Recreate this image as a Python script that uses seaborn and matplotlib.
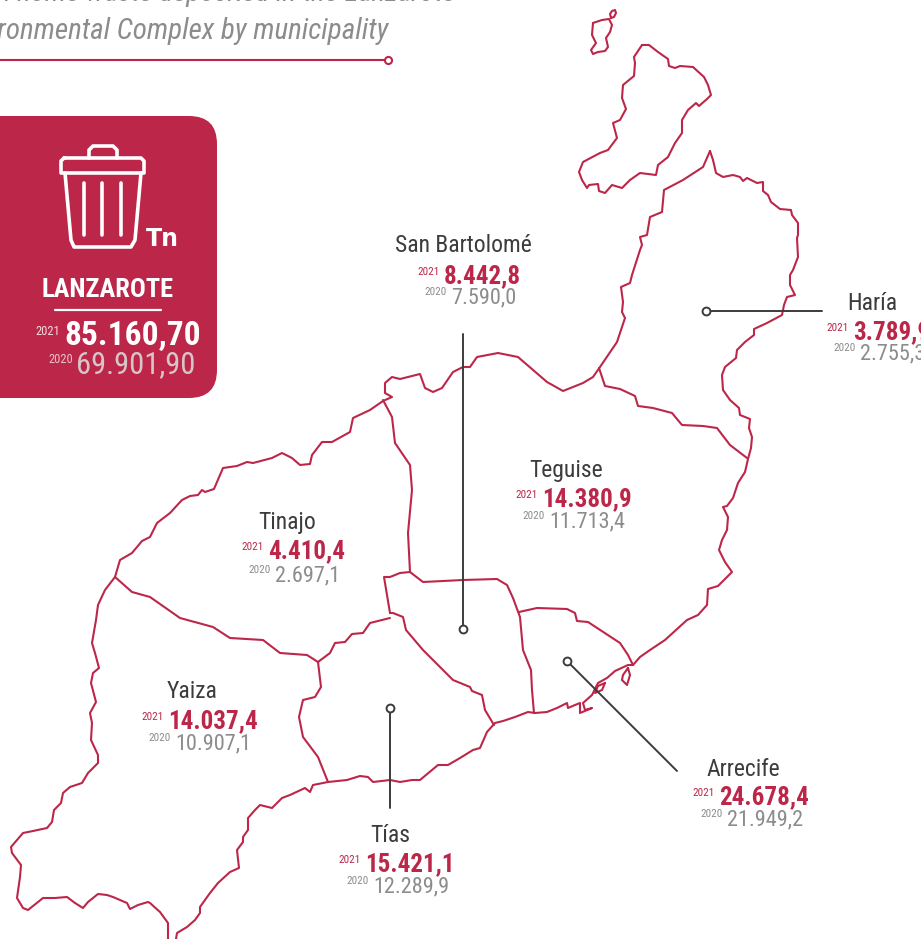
import matplotlib
matplotlib.use("Agg")
import matplotlib.pyplot as plt
from matplotlib import font_manager
from matplotlib.patches import FancyBboxPatch
import seaborn as sns

# Values per municipality
municipalities = ["San Bartolomé", "Haría", "Teguise", "Tinajo", "Yaiza", "Arrecife", "Tías"]
values_2021 = ["8.442,8", "3.789,9", "14.380,9", "4.410,4", "14.037,4", "24.678,4", "15.421,1"]
values_2020 = ["7.590,0", "2.755,3", "11.713,4", "2.697,1", "10.907,1", "21.949,2", "12.289,9"]
total_2021 = "85.160,70"
total_2020 = "69.901,90"

# Map outlines in pixels
graciosa = [(642,45),(649,45),(658,52),(668,59),(669,66),(675,68),(680,66),(693,67),(704,77),(708,85),(711,95),(707,99),(699,106),(696,103),(688,110),(682,120),(682,133),(675,143),(668,157),(658,165),(656,175),(640,173),(630,180),(622,188),(612,185),(605,193),(599,191),(598,184),(589,185),(587,188),(582,180),(579,172),(583,162),(600,153),(608,150),(617,138),(613,123),(620,120),(626,109),(622,98),(623,85),(634,76),(635,63),(634,57),(642,45)]
montana_clara = [(593,23),(602,20),(609,19),(612,25),(610,32),(606,38),(608,47),(605,51),(598,52),(593,54),(591,50),(596,43),(592,35),(593,23)]
islet = [(611,18),(610,14),(612,11),(615,10),(616,13),(614,17),(611,18)]
coast_east = [(710,151),(713,160),(716,173),(723,177),(733,175),(740,177),(743,181),(747,178),(757,183),(763,182),(763,191),(768,195),(771,202),(780,209),(791,210),(792,215),(798,223),(798,235),(797,238),(798,257),(793,270),(790,275),(790,285),(795,295),(787,297),(784,305),(782,315),(767,323),(754,329),(754,335),(745,342),(737,350),(736,358),(725,367),(722,375),(723,390),(730,400),(739,408),(740,415),(750,419),(749,428),(752,437),(751,448),(748,459),(745,472),(738,483),(733,498),(727,506),(723,507),(728,517),(727,530),(722,540),(719,550),(725,562),(732,572),(718,586),(708,589),(707,605),(698,615),(687,620),(665,640),(650,650),(640,657),(633,665)]
coast_south = [(633,665),(628,665),(615,671),(607,678),(598,683),(592,695),(583,703),(585,710),(592,708),(580,713),(580,703),(575,705),(568,708),(567,703),(557,708),(547,712),(535,713),(528,712),(515,717),(503,721),(495,723),(487,732),(480,748),(473,750),(460,758),(448,765),(438,765),(420,780),(412,780),(400,782),(390,780),(373,782),(368,777),(360,776),(347,780),(328,782),(313,785),(310,792),(305,788),(290,795),(282,798),(272,808),(260,805),(255,810),(248,818),(248,830),(243,837),(243,842),(237,850),(239,868),(230,872),(218,883),(210,893),(200,907),(200,913),(195,920),(187,927),(177,933),(175,945),(168,945),(168,923),(160,912),(150,903),(148,902),(138,905),(130,909),(127,903),(113,897),(107,895),(98,894),(88,902),(83,908),(75,903),(67,897),(55,898),(43,898),(28,910),(23,908),(17,898),(20,877),(21,865),(12,853),(11,847),(23,833),(33,831),(47,828),(52,822),(54,810),(61,803),(63,793),(70,787),(82,783),(88,773),(98,763),(98,755),(91,740),(92,723),(90,713),(96,702),(91,683),(93,673),(99,668),(95,653),(92,643),(96,620),(98,605),(105,590),(115,577)]
coast_north = [(115,577),(120,560),(132,553),(142,541),(150,537),(157,523),(170,513),(182,500),(190,496),(198,495),(202,490),(205,492),(214,489),(223,468),(237,466),(247,462),(253,463),(272,458),(282,453),(292,458),(300,465),(310,464),(312,455),(322,442),(332,442),(350,432),(353,418),(370,410),(383,401),(392,397),(385,393),(385,383),(392,377),(400,379),(420,374),(425,388),(433,392),(442,388),(453,372),(463,367),(470,367),(477,357),(498,353),(518,357),(547,382),(563,391),(583,383),(593,377),(600,367),(617,342),(625,318),(622,312),(623,302),(621,287),(630,283),(632,275),(640,250),(642,245),(640,237),(647,235),(650,217),(662,212),(664,190),(683,180),(703,167),(710,151)]
arrecife_inlet = [(628,668),(623,675),(622,680),(627,685),(630,675),(628,668)]
arrecife_islet = [(605,683),(598,686),(595,693),(602,690),(605,683)]

# Municipal borders
border_haria = [(599,368),(605,386),(620,389),(635,396),(638,406),(653,408),(672,413),(682,425),(703,426),(717,428),(730,445),(747,458)]
border_teguise_west = [(383,400),(392,417),(395,443),(410,465),(412,490),(408,533),(410,572)]
border_teguise_south = [(410,572),(423,582),(463,580),(497,579),(507,585),(513,598),(520,617),(523,650),(531,670),(532,690),(534,713)]
border_tinajo_east = [(410,572),(400,573),(390,577),(384,577),(390,613)]
border_arrecife = [(519,612),(537,608),(567,609),(575,613),(577,621),(588,622),(620,643),(628,655),(633,665)]
border_tias_north = [(390,613),(393,613),(403,617),(406,630),(423,650),(453,680),(470,687),(472,691),(482,695),(485,710),(494,725)]
border_tinajo_south = [(390,618),(370,623),(363,633),(352,634),(345,642),(335,643),(330,653),(318,662)]
border_yaiza_north = [(115,577),(132,592),(150,597),(180,618),(213,627),(230,638),(263,640),(280,653),(307,655),(318,662)]
border_yaiza_east = [(318,662),(321,687),(315,697),(303,700),(299,717),(303,737),(318,757),(328,782)]
map_lines = [graciosa, montana_clara, islet, coast_east, coast_south, coast_north, arrecife_inlet, arrecife_islet,
             border_haria, border_teguise_west, border_teguise_south, border_tinajo_east, border_arrecife,
             border_tias_north, border_tinajo_south, border_yaiza_north, border_yaiza_east]

# Leader lines from the label to the municipality
leaders = [[(463,629),(463,334)], [(706,311),(822,311)], [(567,661),(677,771)], [(390,708),(390,808)]]

# Trash icon
icon_lid = [(64,158),(141,158),(144,161),(144,173),(61,173),(61,161),(64,158)]
icon_handle = [(89,158),(89,150),(93,146),(113,146),(117,150),(117,158)]
icon_body = [(65,173),(71,240),(74,247),(131,247),(135,240),(141,173)]
icon_bars = [[(84,183),(84,235)], [(102,183),(102,235)], [(121,183),(121,235)]]

RED = "#bc2749"
DARK = "#3c3c3c"
GREY = "#8c8c8c"

# label layout: name centre, name y, 2021 split x, 2021 baseline, 2020 split x, 2020 baseline
label_layout = [(463,246,442,283,449,303), (872,303,851,339,858,359), (566,471,540,506,547,527),
                (287,523,266,558,273,581), (192,692,166,728,173,749), (743,769,717,804,725,825),
                (390,836,363,871,371,892)]

sns.set_theme(style="white")
installed = {f.name for f in font_manager.fontManager.ttflist}
print(sorted(n for n in installed if "Narrow" in n or "Condensed" in n))
plt.rcParams["font.family"] = ["Liberation Sans Narrow", "Roboto Condensed", "Liberation Sans", "DejaVu Sans"]

fig = plt.figure(figsize=(9.21, 9.39), dpi=100)
ax = fig.add_axes([0, 0, 1, 1])


def draw_line(points, color, lw, zorder=2):
    xs, ys = zip(*points)
    sns.lineplot(x=list(xs), y=list(ys), sort=False, estimator=None, color=color,
                 linewidth=lw, ax=ax, zorder=zorder, solid_capstyle="round", legend=False)


for outline in map_lines:
    draw_line(outline, RED, 1.5)

for leader in leaders:
    draw_line(leader, DARK, 1.4, zorder=3)
sns.scatterplot(x=[p[0][0] for p in leaders[:1]] + [706, 567, 390], y=[629, 311, 661, 708], s=32, color="white",
                edgecolor=DARK, linewidth=1.4, ax=ax, zorder=4, legend=False)

# title and rule
ax.text(456, 1, "Urban home waste deposited in the Lanzarote", ha="right", va="baseline", style="italic",
        fontsize=21, color=GREY)
ax.text(388, 39, "Environmental Complex by municipality", ha="right", va="baseline", style="italic",
        fontsize=21, color=GREY)
draw_line([(-5, 60), (384, 60)], RED, 1.5)
sns.scatterplot(x=[388], y=[60], s=26, color="white", edgecolor=RED, linewidth=1.5, ax=ax, zorder=4, legend=False)

# Lanzarote box
ax.add_patch(FancyBboxPatch((-40, 116), 257, 282, boxstyle="round,pad=0,rounding_size=28", fc=RED, ec="none", zorder=1))
for part in [icon_lid, icon_handle, icon_body] + icon_bars:
    draw_line(part, "white", 2.6)
ax.text(146, 246, "Tn", ha="left", va="baseline", fontsize=17, color="white", fontweight="bold", family="DejaVu Sans")
ax.text(107, 297, "LANZAROTE", ha="center", va="baseline", fontsize=19, color="white", fontweight="bold")
draw_line([(55, 310), (161, 310)], "white", 1.6)
ax.text(60, 335, "2021", ha="right", va="baseline", fontsize=9, color="#f3d9df")
ax.text(64, 345, total_2021, ha="left", va="baseline", fontsize=24, color="white", fontweight="bold")
ax.text(73, 363, "2020", ha="right", va="baseline", fontsize=9, color="#e3c4cc")
ax.text(76, 373, total_2020, ha="left", va="baseline", fontsize=22, color="#d6c6ca")

# municipality labels
for name, v21, v20, pos in zip(municipalities, values_2021, values_2020, label_layout):
    cx, ny, x21, y21, x20, y20 = pos
    ax.text(cx, ny, name, ha="center", va="center", fontsize=17, color=DARK)
    ax.text(x21 - 2, y21 - 8, "2021", ha="right", va="baseline", fontsize=8, color=RED)
    ax.text(x21 + 2, y21, v21, ha="left", va="baseline", fontsize=18, color=RED, fontweight="bold")
    ax.text(x20 - 2, y20 - 8, "2020", ha="right", va="baseline", fontsize=8, color=GREY)
    ax.text(x20 + 2, y20, v20, ha="left", va="baseline", fontsize=16, color=GREY)

ax.set_xlim(0, 921)
ax.set_ylim(939, 0)
ax.axis("off")
fig.savefig("out.png", dpi=100)
